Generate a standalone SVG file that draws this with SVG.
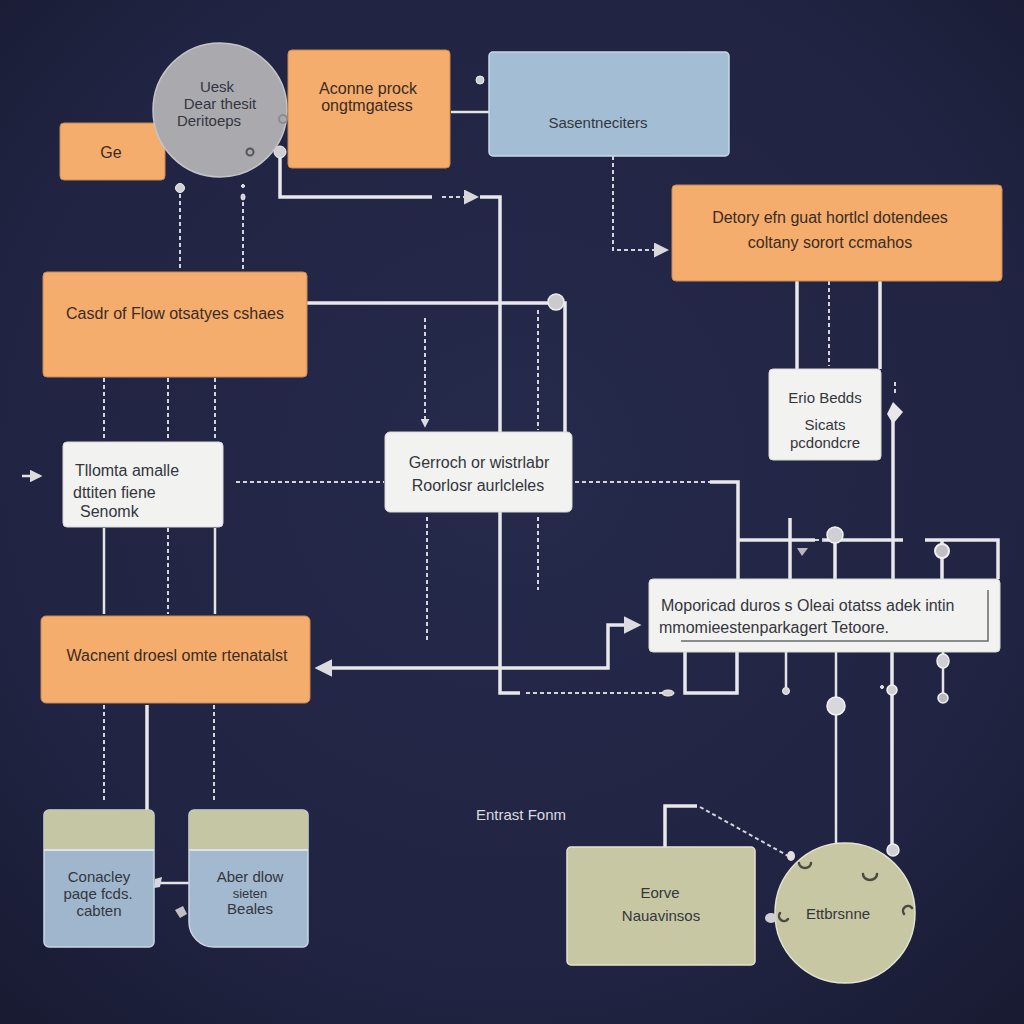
<svg xmlns="http://www.w3.org/2000/svg" width="1024" height="1024" viewBox="0 0 1024 1024">
  <defs>
    <radialGradient id="bg" cx="50%" cy="45%" r="75%">
      <stop offset="0" stop-color="#262a4b"/>
      <stop offset="0.7" stop-color="#202341"/>
      <stop offset="1" stop-color="#181a31"/>
    </radialGradient>
    <marker id="tri" viewBox="0 0 10 10" refX="8" refY="5" markerWidth="5" markerHeight="5" orient="auto-start-reverse" markerUnits="strokeWidth">
      <path d="M0 0 L10 5 L0 10 Z" fill="#dcdce0"/>
    </marker>
    <marker id="triL" viewBox="0 0 10 10" refX="8" refY="5" markerWidth="15" markerHeight="15" orient="auto" markerUnits="userSpaceOnUse">
      <path d="M0 0 L10 5 L0 10 Z" fill="#d8d8dc"/>
    </marker>
    <marker id="triS" viewBox="0 0 10 10" refX="8" refY="5" markerWidth="9" markerHeight="9" orient="auto" markerUnits="userSpaceOnUse">
      <path d="M0 0 L10 5 L0 10 Z" fill="#dcdce0"/>
    </marker>
    <style>
      .orange { fill: #f4ad6c; stroke: #c98a52; stroke-width: 1; }
      .blue { fill: #a3bed4; stroke: #c8d8e6; stroke-width: 1.5; }
      .white { fill: #f2f2f0; stroke: #d8d8d8; stroke-width: 1; }
      .olive { fill: #c7c7a3; stroke: #e4e4d0; stroke-width: 1.5; }
      .grayc { fill: #a9a9ae; stroke: #c4c4c8; stroke-width: 1.5; }
      .t { font-family: "Liberation Sans", Arial, sans-serif; font-size: 16px; fill: #3b2b22; }
      .tc { text-anchor: middle; }
      .td { fill: #34363e; }
      .ts { font-size: 15px; }
      .tl { fill: #dcdce0; }
      .solid { fill: none; stroke: #e8e8ea; stroke-width: 3.5; stroke-linejoin: miter; }
      .mid { fill: none; stroke: #e4e4e6; stroke-width: 2.5; }
      .dash { fill: none; stroke: #d4d4da; stroke-width: 2; stroke-dasharray: 4 3; }
      .dot { fill: #d0d0d4; stroke: #f0f0f2; stroke-width: 1; }
      .deco { fill: none; stroke: #4a4a44; stroke-width: 2.5; stroke-linecap: round; }
    </style>
  </defs>

  <rect width="1024" height="1024" fill="url(#bg)"/>

  <!-- connectors -->
  <g id="connectors">
    <!-- top row -->
    <circle class="dot" cx="480" cy="80" r="4"/>
    <path class="mid" d="M451 112 H489"/>
    <path class="solid" d="M280 152 V197 H432"/>
    <circle class="dot" cx="280" cy="152" r="6"/>
    <path class="dash" d="M442 197 H476" marker-end="url(#triL)"/>
    <path class="solid" d="M480 197 H500 V432"/>
    <path class="solid" d="M500 512 V693 H520"/>
    <path class="dash" d="M526 693 H664"/>
    <ellipse class="dot" cx="668" cy="693" rx="6" ry="3"/>

    <!-- blue box to Detory -->
    <path class="dash" d="M613 156 V250 H666" marker-end="url(#triL)"/>

    <!-- under Ge / circle -->
    <circle class="dot" cx="180" cy="188" r="4.5"/>
    <path class="dash" d="M180 194 V270"/>
    <circle class="dot" cx="243" cy="186" r="1.5"/>
    <ellipse class="dot" cx="243" cy="197" rx="2" ry="3"/>
    <path class="dash" d="M243 202 V270"/>

    <!-- Casdr to Gerroch -->
    <path class="solid" d="M307 303 H556"/>
    <path class="solid" d="M556 303 H565 V432"/>
    <circle cx="556" cy="302" r="8" fill="#c9c9ce" stroke="#eeeef0" stroke-width="1.5"/>
    <path class="dash" d="M425 318 V426" marker-end="url(#triS)"/>
    <path class="dash" d="M538 310 V430"/>

    <!-- under Casdr -->
    <path class="dash" d="M104 378 V440"/>
    <path class="dash" d="M168 378 V440"/>
    <path class="dash" d="M215 378 V440"/>

    <!-- left arrow into Tllomta -->
    <path class="mid" d="M22 476 H40" marker-end="url(#tri)"/>

    <!-- dashed cross line through the middle -->
    <path class="dash" d="M236 482 H384"/>
    <path class="dash" d="M575 482 H710"/>
    <path class="solid" d="M710 482 H738 V579"/>

    <!-- under Tllomta -->
    <path class="mid" d="M104 528 V614" stroke-width="2"/>
    <path class="dash" d="M168 528 V614"/>
    <path class="mid" d="M215 528 V614" stroke-width="2"/>

    <!-- under Gerroch -->
    <path class="dash" d="M427 517 V640"/>
    <path class="dash" d="M538 517 V590"/>

    <!-- Wacnent <-> Moporicad -->
    <path class="solid" d="M318 668 H608 V625 H638" marker-start="url(#tri)" marker-end="url(#tri)"/>

    <!-- Detory down to Erio -->
    <path class="solid" d="M797 281 V369"/>
    <path class="solid" d="M880 281 V369"/>
    <path class="dash" d="M829 281 V366"/>

    <!-- bus above Moporicad -->
    <path class="solid" d="M738 540 H815"/>
    <path class="solid" d="M822 540 H903"/>
    <path class="solid" d="M925 540 H998 V579"/>
    <path class="dash" d="M815 540 H824"/>
    <path class="solid" d="M790 518 V579"/>
    <path d="M797 548 L808 548 L802 556 Z" fill="#b8b8bc"/>
    <path class="solid" d="M835 540 V579"/>
    <circle cx="835" cy="535" r="8" fill="#d0d0d4" stroke="#f2f2f4" stroke-width="1.5"/>
    <path class="solid" d="M893 579 V414"/>
    <path d="M893 402 L903 412 L893 424 L887 414 Z" fill="#e8e8ea"/>
    <path class="dash" d="M895 382 V396" stroke-width="1.5"/>
    <path class="solid" d="M942 540 V579"/>
    <circle cx="942" cy="551" r="7" fill="#c0c0c4" stroke="#f0f0f2" stroke-width="2"/>

    <!-- below Moporicad -->
    <path class="solid" d="M685 652 V693 H737 V652"/>
    <path class="mid" d="M786 652 V688"/>
    <circle class="dot" cx="786" cy="691" r="3.5"/>
    <path class="mid" d="M836 652 V845"/>
    <circle cx="836" cy="706" r="9" fill="#d8d8dc" stroke="#f2f2f4" stroke-width="1.5"/>
    <path class="solid" d="M892 652 V848"/>
    <circle cx="892" cy="690" r="5" fill="#cfcfd3" stroke="#f2f2f4" stroke-width="1.5"/>
    <circle class="dot" cx="882" cy="687" r="1.5"/>
    <ellipse cx="893" cy="850" rx="6" ry="6" fill="#d0d0d4" stroke="#eeeef0" stroke-width="1.5"/>
    <path class="mid" d="M943 652 V698"/>
    <ellipse cx="943" cy="661" rx="6" ry="7" fill="#d0d0d4" stroke="#f0f0f2" stroke-width="1.5"/>
    <circle cx="943" cy="698" r="5" fill="#b8b8bc" stroke="#f0f0f2" stroke-width="1.5"/>

    <!-- under Wacnent -->
    <path class="dash" d="M104 705 V800"/>
    <path class="solid" d="M147 705 V810"/>
    <path class="dash" d="M214 705 V800"/>

    <!-- between the bottom tanks -->
    <path class="mid" d="M156 883 H189" stroke-width="2"/>
    <path d="M155 879 L162 877 L160 887 L154 888 Z" fill="#d8d8dc"/>
    <path d="M175 910 L183 906 L187 914 L180 918 Z" fill="#c0c0c4"/>

    <!-- bottom right -->
    <path class="solid" d="M665 847 V806 H697" stroke-width="4"/>
    <path class="dash" d="M700 807 L790 857" stroke-width="1.8"/>
  </g>

  <!-- nodes -->
  <g id="node-ge">
    <rect class="orange" x="60" y="123" width="105" height="57" rx="4"/>
    <text class="t tc" x="111" y="158">Ge</text>
  </g>

  <g id="node-uesk">
    <circle class="grayc" cx="220" cy="110" r="67"/>
    <circle cx="283" cy="119" r="4" fill="none" stroke="#8a8a90" stroke-width="2"/>
    <circle cx="250" cy="152" r="3.5" fill="none" stroke="#55555a" stroke-width="2"/>
    <text class="t tc td ts" x="217" y="92">Uesk</text>
    <text class="t tc td ts" x="220" y="109">Dear thesit</text>
    <text class="t tc td ts" x="209" y="126">Deritoeps</text>
  </g>

  <g id="node-aconne">
    <rect class="orange" x="288" y="50" width="162" height="118" rx="4"/>
    <text class="t tc" x="368" y="94">Aconne prock</text>
    <text class="t tc" x="367" y="111">ongtmgatess</text>
  </g>

  <g id="node-sasent">
    <rect class="blue" x="489" y="52" width="240" height="104" rx="4"/>
    <text class="t tc td ts" x="598" y="128">Sasentneciters</text>
  </g>

  <g id="node-detory">
    <rect class="orange" x="672" y="185" width="330" height="96" rx="4"/>
    <text class="t tc" x="830" y="223">Detory efn guat hortlcl dotendees</text>
    <text class="t tc" x="830" y="248">coltany sorort ccmahos</text>
  </g>

  <g id="node-casdr">
    <rect class="orange" x="43" y="272" width="264" height="105" rx="4"/>
    <text class="t tc" x="175" y="319">Casdr of Flow otsatyes cshaes</text>
  </g>

  <g id="node-tllomta">
    <rect class="white" x="63" y="442" width="160" height="85" rx="4"/>
    <text class="t td" x="75" y="476">Tllomta amalle</text>
    <text class="t td" x="73" y="498">dttiten fiene</text>
    <text class="t td" x="80" y="517">Senomk</text>
  </g>

  <g id="node-gerroch">
    <rect class="white" x="385" y="432" width="187" height="80" rx="5"/>
    <text class="t tc td" x="479" y="468">Gerroch or wistrlabr</text>
    <text class="t tc td" x="478" y="491">Roorlosr aurlcleles</text>
  </g>

  <g id="node-erio">
    <rect class="white" x="769" y="369" width="112" height="91" rx="4"/>
    <text class="t tc td ts" x="825" y="403">Erio Bedds</text>
    <text class="t tc td ts" x="825" y="430">Sicats</text>
    <text class="t tc td ts" x="825" y="448">pcdondcre</text>
  </g>

  <g id="node-moporicad">
    <rect class="white" x="649" y="579" width="351" height="73" rx="4"/>
    <path d="M681 641 H988 V590" fill="none" stroke="#6a6a70" stroke-width="1.5"/>
    <text class="t td" x="661" y="611">Moporicad duros s  Oleai otatss adek intin</text>
    <text class="t td" x="659" y="633">mmomieestenparkagert  Tetoore.</text>
  </g>

  <g id="node-wacnent">
    <rect class="orange" x="41" y="616" width="269" height="87" rx="5"/>
    <text class="t tc" x="177" y="661">Wacnent droesl omte rtenatalst</text>
  </g>

  <g id="node-conacley">
    <rect x="44" y="810" width="110" height="137" rx="5" fill="#9fb6cd" stroke="#c9d6e2" stroke-width="1.5"/>
    <path d="M49 810 H149 a5 5 0 0 1 5 5 V850 H44 V815 a5 5 0 0 1 5 -5 Z" fill="#c5c6a3"/>
    <path d="M44 850 H154" stroke="#dde2e6" stroke-width="2"/>
    <text class="t tc td ts" x="99" y="882">Conacley</text>
    <text class="t tc td ts" x="98" y="899">paqe fcds.</text>
    <text class="t tc td ts" x="99" y="916">cabten</text>
  </g>

  <g id="node-aber">
    <path d="M194 810 H303 a5 5 0 0 1 5 5 V942 a5 5 0 0 1 -5 5 H214 a25 25 0 0 1 -25 -25 V815 a5 5 0 0 1 5 -5 Z" fill="#a2b9cf" stroke="#c9d6e2" stroke-width="1.5"/>
    <path d="M194 810 H303 a5 5 0 0 1 5 5 V850 H189 V815 a5 5 0 0 1 5 -5 Z" fill="#c5c6a3"/>
    <path d="M189 850 H308" stroke="#dde2e6" stroke-width="2"/>
    <text class="t tc td ts" x="250" y="882">Aber dlow</text>
    <text class="t tc td" x="250" y="898" style="font-size:13px">sieten</text>
    <text class="t tc td ts" x="250" y="914">Beales</text>
  </g>

  <text id="label-entrast" class="t tl ts" x="476" y="820">Entrast Fonm</text>

  <g id="node-eorve">
    <rect class="olive" x="567" y="847" width="188" height="118" rx="4"/>
    <text class="t tc td ts" x="660" y="898">Eorve</text>
    <text class="t tc td ts" x="661" y="921">Nauavinsos</text>
  </g>

  <g id="node-ettbrsnne">
    <circle class="olive" cx="845" cy="913" r="70"/>
    <path class="deco" d="M799 863 a6 5 0 0 0 12 0"/>
    <path class="deco" d="M863 874 a7 6 0 0 0 14 0"/>
    <path class="deco" d="M904 914 a5 5 0 1 1 8 -6"/>
    <path class="deco" d="M780 913 a5 5 0 0 0 8 6" stroke="#8a8a84"/>
    <ellipse cx="771" cy="918" rx="6" ry="5" fill="#d0d0d4"/>
    <ellipse cx="791" cy="856" rx="4" ry="5" fill="#e0e0e2"/>
    <text class="t tc td ts" x="838" y="919">Ettbrsnne</text>
  </g>
</svg>
